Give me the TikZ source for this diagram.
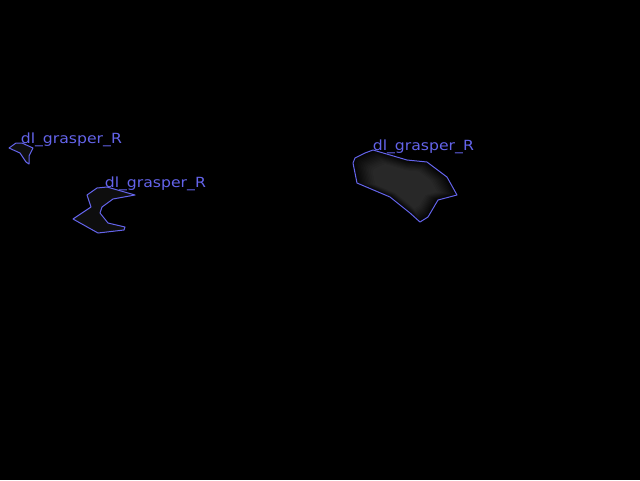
\documentclass[tikz,border=0pt]{standalone}
\usepackage{fontspec}
\setmainfont{DejaVu Sans}
\definecolor{seg}{RGB}{100,100,235}
\definecolor{faint}{RGB}{14,14,14}
\tikzset{
  outline/.style={draw=seg, line width=0.75pt, line join=round},
  lbl/.style={text=seg, anchor=base west, inner sep=0pt, font=\fontsize{10.5}{12}\selectfont, xscale=1.12},
  bloblayer/.style={fill=white, fill opacity=0.016, draw=none}
}
\newcommand{\blobshape}{(-50,-29)--(-40,-34)--(-32,-37)--(2,-27)--(22,-25)--(42,-10)--(52,8)--(33,13)--(23,30)--(15,35)--(5,26)--(-15,10)--(-48,-4)--(-52,-24)--cycle}
\begin{document}
\begin{tikzpicture}[x=0.75pt,y=-0.75pt]
\fill[black] (0,0) rectangle (640,480);
\useasboundingbox (0,0) rectangle (640,480);
% faint interiors
\fill[faint] (9,148)--(16,143)--(22,143)--(33,148)--(29,156)--(29,164)--(26,162)--(20,153)--cycle;
\fill[faint] (97,188)--(107,187)--(135,195)--(113,199)--(102,207)--(100,213)--(108,223)--(125,227)--(124,230)--(98,233)--(73,219)--(91,207)--(87,195)--cycle;
% big blob fill, layered for a soft edge
\foreach \s in {1.0,0.97,0.94,0.91,0.88,0.85,0.82,0.79,0.76,0.73,0.70,0.66,0.62}{
  \fill[bloblayer, shift={(405,187)}, scale=\s] \blobshape;
}
% outlines
\draw[outline] (9,148)--(16,143)--(22,143)--(33,148)--(29,156)--(29,164)--(26,162)--(20,153)--cycle;
\draw[outline] (97,188)--(107,187)--(135,195)--(113,199)--(102,207)--(100,213)--(108,223)--(125,227)--(124,230)--(98,233)--(73,219)--(91,207)--(87,195)--cycle;
\draw[outline] (355,158)--(365,153)--(373,150)--(407,160)--(427,162)--(447,177)--(457,195)--(438,200)--(428,217)--(420,222)--(410,213)--(390,197)--(357,183)--(353,163)--cycle;
% labels
\node[lbl] (l1) at (20.5,143) {dl\_grasper\_R};
\node[lbl] (l2) at (104.5,187) {dl\_grasper\_R};
\node[lbl] (l3) at (372.5,150) {dl\_grasper\_R};
\end{tikzpicture}
\end{document}
